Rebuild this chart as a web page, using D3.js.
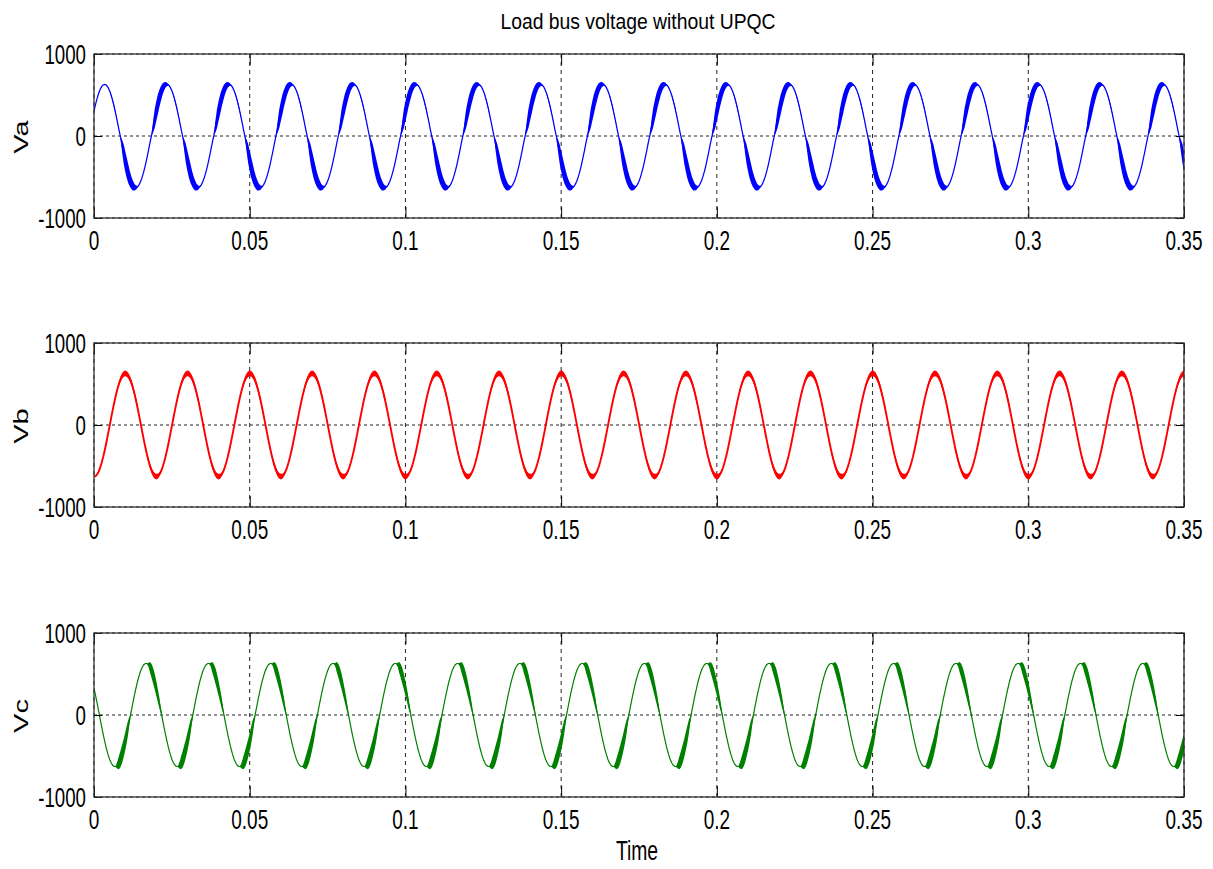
<!DOCTYPE html>
<html>
<head>
<meta charset="utf-8">
<script src="https://d3js.org/d3.v7.min.js"></script>
<style>
    body { margin: 0; background: #fff; }
    svg text { font-family: "Liberation Sans", Arial, sans-serif; fill: #000; }
</style>
</head>
<body>
<div id="chart"></div>
<script>
// --------------------------------------------------
// Load bus voltage without UPQC: three phase voltages, 50 Hz

var xTicks = [0, 0.05, 0.1, 0.15, 0.2, 0.25, 0.3, 0.35];
var yTicks = [-1000, 0, 1000];
var phaseNames = ["Va", "Vb", "Vc"];

// one 20 ms cycle of each phase, read every 0.5 ms (volts)
var tStep = 0.0005;
var tEnd = 0.35;
var rippleOnset = 0.004;   // switching ripple is not there in the first few ms

var vaCycle = [304, 386, 459, 521, 570, 605, 625, 630, 619, 593,
               552, 498, 431, 354, 268, 176, 79, -10, -118, -213,
               -304, -386, -459, -521, -570, -605, -625, -630, -619, -593,
               -552, -498, -431, -354, -268, -176, -79, 10, 118, 213];
var vaRipple = [120, 120, 105, 90, 70, 50, 35, 20, 5, 0,
                0, 12, 18, 18, 12, 5, 0, 0, 75, 115,
                125, 125, 115, 95, 75, 60, 40, 25, 8, 0,
                0, 0, 0, 0, 0, 0, 0, 0, 75, 115];

var vbCycle = [-630, -624, -603, -567, -517, -455, -381, -298, -207, -112,
               -13, 85, 182, 274, 359, 436, 502, 555, 595, 620,
               630, 624, 603, 567, 517, 455, 381, 298, 207, 112,
               13, -85, -182, -274, -359, -436, -502, -555, -595, -620];
var vbRipple = [35, 30, 25, 15, 10, 5, 0, 0, 0, 0,
                0, 0, 5, 10, 15, 25, 30, 35, 35, 35,
                35, 35, 35, 35, 35, 35, 35, 30, 25, 15,
                8, 8, 12, 18, 25, 30, 35, 35, 35, 35];

var vcCycle = [326, 238, 144, 46, -53, -150, -244, -332, -412, -481,
               -539, -583, -613, -628, -628, -612, -581, -536, -477, -407,
               -326, -238, -144, -46, 53, 150, 244, 332, 412, 481,
               539, 583, 613, 628, 628, 612, 581, 536, 477, 407];
var vcRipple = [90, 80, 65, 30, 0, 0, 0, 0, 0, 0,
                0, 0, 0, 0, 10, 45, 80, 100, 110, 110,
                110, 105, 85, 30, 0, 0, 0, 0, 0, 0,
                0, 0, 0, 0, 0, 25, 65, 85, 95, 95];

var cycles = [vaCycle, vbCycle, vcCycle];
var ripples = [vaRipple, vbRipple, vcRipple];

// layout
var width = 1213, height = 869;
var plotLeft = 94, plotRight = 1184;
var panelTop = [54, 343, 633];
var panelH = 164;
var colors = ["#0000ff", "#ff0000", "#008000"];
var lineWidth = [1.25, 1.9, 1.2];

var svg = d3.select("#chart")
    .append("svg")
    .attr("width", width)
    .attr("height", height);

var x = d3.scaleLinear()
    .domain([0, tEnd])
    .range([plotLeft, plotRight]);

// the original figure was squeezed sideways, so are its letters
function squeezed(px, py, k, extra) {
    return "translate(" + px + "," + py + ") scale(" + k + ",1)" + (extra || "");
}

function buildSeries(cycle, ripple) {
    var n = Math.round(tEnd / tStep);
    var out = [];
    for (var i = 0; i <= n; i++) {
        var t = i * tStep;
        var k = i % cycle.length;
        out.push({ t: t, v: cycle[k], r: t < rippleOnset ? 0 : ripple[k] });
    }
    return out;
}

// title
svg.append("text")
    .attr("text-anchor", "middle")
    .attr("font-size", "21.5px")
    .attr("transform", squeezed(638, 29, 0.9))
    .text("Load bus voltage without UPQC");

phaseNames.forEach(function(name, p) {
    var top = panelTop[p];
    var bottom = top + panelH;

    var y = d3.scaleLinear()
        .domain([-1000, 1000])
        .range([bottom, top]);

    var g = svg.append("g");

    svg.append("clipPath")
        .attr("id", "clip" + p)
        .append("rect")
        .attr("x", plotLeft)
        .attr("y", top)
        .attr("width", plotRight - plotLeft)
        .attr("height", panelH);

    // grid
    g.selectAll(".vgrid")
        .data(xTicks)
        .enter()
        .append("line")
        .attr("x1", function(d) { return x(d); })
        .attr("x2", function(d) { return x(d); })
        .attr("y1", top)
        .attr("y2", bottom)
        .attr("stroke", "#222")
        .attr("stroke-width", 1)
        .attr("stroke-dasharray", "4,4");

    g.selectAll(".hgrid")
        .data(yTicks)
        .enter()
        .append("line")
        .attr("x1", plotLeft)
        .attr("x2", plotRight)
        .attr("y1", function(d) { return y(d); })
        .attr("y2", function(d) { return y(d); })
        .attr("stroke", "#222")
        .attr("stroke-width", 1)
        .attr("stroke-dasharray", "3,3");

    // waveform: ripple band + centre line
    var data = buildSeries(cycles[p], ripples[p]);
    var plot = g.append("g").attr("clip-path", "url(#clip" + p + ")");

    plot.append("path")
        .datum(data)
        .attr("d", d3.area()
            .x(function(d) { return x(d.t); })
            .y0(function(d) { return y(d.v - d.r); })
            .y1(function(d) { return y(d.v + d.r); }))
        .attr("fill", colors[p]);

    plot.append("path")
        .datum(data)
        .attr("d", d3.line()
            .x(function(d) { return x(d.t); })
            .y(function(d) { return y(d.v); }))
        .attr("fill", "none")
        .attr("stroke", colors[p])
        .attr("stroke-width", lineWidth[p]);

    // inward ticks on all four sides
    g.append("g")
        .attr("transform", "translate(0," + bottom + ")")
        .call(d3.axisBottom(x).tickValues(xTicks).tickSize(-11).tickFormat(""));
    g.append("g")
        .attr("transform", "translate(0," + top + ")")
        .call(d3.axisTop(x).tickValues(xTicks).tickSize(-11).tickFormat(""));
    g.append("g")
        .attr("transform", "translate(" + plotLeft + ",0)")
        .call(d3.axisLeft(y).tickValues(yTicks).tickSize(-8).tickFormat(""));
    g.append("g")
        .attr("transform", "translate(" + plotRight + ",0)")
        .call(d3.axisRight(y).tickValues(yTicks).tickSize(-8).tickFormat(""));
    g.selectAll(".domain").remove();

    // box
    g.append("rect")
        .attr("x", plotLeft)
        .attr("y", top)
        .attr("width", plotRight - plotLeft)
        .attr("height", panelH)
        .attr("fill", "none")
        .attr("stroke", "#333")
        .attr("stroke-width", 1.3);

    // tick labels
    g.selectAll(".xlab")
        .data(xTicks)
        .enter()
        .append("text")
        .attr("text-anchor", "middle")
        .attr("font-size", "27.5px")
        .attr("transform", function(d) { return squeezed(x(d), bottom + 32, 0.69); })
        .text(function(d) { return d; });

    g.selectAll(".ylab")
        .data(yTicks)
        .enter()
        .append("text")
        .attr("text-anchor", "end")
        .attr("font-size", "27.5px")
        .attr("transform", function(d) { return squeezed(86, y(d) + 9.5, 0.68); })
        .text(function(d) { return d; });

    // y label
    g.append("text")
        .attr("text-anchor", "middle")
        .attr("font-size", "29px")
        .attr("transform", squeezed(28, y(0) + 1, 0.68, " rotate(-90)"))
        .text(name);
});

// x label
svg.append("text")
    .attr("text-anchor", "middle")
    .attr("font-size", "28px")
    .attr("transform", squeezed(637, 860, 0.69))
    .text("Time");
</script>
</body>
</html>
